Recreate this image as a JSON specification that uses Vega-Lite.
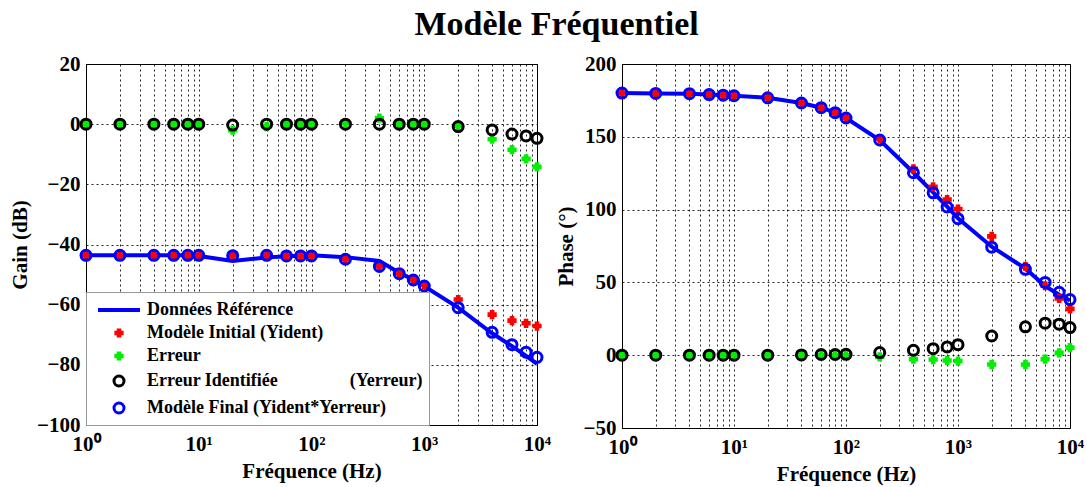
{
  "$schema": "https://vega.github.io/schema/vega-lite/v6.json",
  "padding": {"left": 9, "right": 5, "top": 7, "bottom": 5},
  "title": {"text": "Modèle Fréquentiel", "font": "Liberation Serif", "fontSize": 34, "fontWeight": "bold", "color": "black", "anchor": "middle", "offset": 12, "dx": 10, "dy": 1},
  "config": {
    "view": {"stroke": "black", "strokeWidth": 1},
    "axis": {"labelFont": "Liberation Serif", "labelFontSize": 21, "labelFontWeight": "bold", "labelColor": "black", "titleFont": "Liberation Serif", "titleFontSize": 21, "titleFontWeight": "bold", "titleColor": "black", "domainColor": "black", "gridColor": "black", "gridDash": [2, 3], "gridOpacity": 0.85, "gridWidth": 1, "ticks": false, "labelPadding": 6},
    "axisX": {"labelPadding": 8, "titlePadding": 6},
    "legend": {"orient": "bottom-left", "offset": 0, "fillColor": "white", "strokeColor": "#999999", "padding": 6, "labelFont": "Liberation Serif", "labelFontSize": 18, "labelFontWeight": "bold", "labelColor": "black", "rowPadding": 5, "symbolOffset": 15, "labelOffset": 16, "labelLimit": 400}
  },
  "datasets": {
    "gain": [
      {"f": 1, "ref": -43.6, "init": -43.6, "err": 0, "errId": 0, "final": -43.6},
      {"f": 2, "ref": -43.6, "init": -43.6, "err": 0, "errId": 0, "final": -43.6},
      {"f": 4, "ref": -43.6, "init": -43.6, "err": 0, "errId": 0, "final": -43.6},
      {"f": 6, "ref": -43.6, "init": -43.6, "err": 0, "errId": 0, "final": -43.6},
      {"f": 8, "ref": -43.6, "init": -43.6, "err": 0, "errId": 0, "final": -43.6},
      {"f": 10, "ref": -43.8, "init": -43.6, "err": 0, "errId": 0, "final": -43.6},
      {"f": 20, "ref": -45.5, "init": -43.6, "err": -2, "errId": -0.3, "final": -43.7},
      {"f": 40, "ref": -44.3, "init": -43.6, "err": -0.8, "errId": 0, "final": -43.6},
      {"f": 60, "ref": -43.9, "init": -43.8, "err": 0, "errId": 0, "final": -43.8},
      {"f": 80, "ref": -43.7, "init": -43.8, "err": 0, "errId": 0, "final": -43.8},
      {"f": 100, "ref": -43.6, "init": -43.8, "err": 0, "errId": 0, "final": -43.8},
      {"f": 200, "ref": -44.2, "init": -44.8, "err": 0.4, "errId": 0, "final": -44.9},
      {"f": 400, "ref": -45.5, "init": -47.2, "err": 2, "errId": 0, "final": -47.3},
      {"f": 600, "ref": -49.4, "init": -49.6, "err": 0, "errId": 0, "final": -49.7},
      {"f": 800, "ref": -51.7, "init": -51.6, "err": 0, "errId": 0, "final": -51.8},
      {"f": 1000, "ref": -53.9, "init": -53.3, "err": 0, "errId": 0, "final": -53.8},
      {"f": 2000, "ref": -61, "init": -58.3, "err": -0.5, "errId": -0.8, "final": -61},
      {"f": 4000, "ref": -69.5, "init": -63.3, "err": -5, "errId": -1.9, "final": -69.2},
      {"f": 6000, "ref": -73.8, "init": -65.3, "err": -8.5, "errId": -3.3, "final": -73.3},
      {"f": 8000, "ref": -77, "init": -66.2, "err": -11.5, "errId": -3.9, "final": -75.8},
      {"f": 10000, "ref": -79.7, "init": -67.1, "err": -14.2, "errId": -4.7, "final": -77.5}
    ],
    "phase": [
      {"f": 1, "ref": 180, "init": 180, "err": 0, "errId": 0, "final": 180},
      {"f": 2, "ref": 179.8, "init": 179.8, "err": 0, "errId": 0, "final": 179.8},
      {"f": 4, "ref": 179.6, "init": 179.6, "err": 0, "errId": 0, "final": 179.6},
      {"f": 6, "ref": 179, "init": 179, "err": 0, "errId": 0, "final": 179},
      {"f": 8, "ref": 178.6, "init": 178.6, "err": 0, "errId": 0, "final": 178.6},
      {"f": 10, "ref": 178.2, "init": 178.2, "err": 0, "errId": 0, "final": 178.2},
      {"f": 20, "ref": 176.8, "init": 176.8, "err": 0, "errId": 0, "final": 176.8},
      {"f": 40, "ref": 173.2, "init": 173.2, "err": 0, "errId": 0.2, "final": 173.2},
      {"f": 60, "ref": 170, "init": 170, "err": 0, "errId": 0.5, "final": 170},
      {"f": 80, "ref": 166.6, "init": 166.6, "err": 0, "errId": 0.5, "final": 166.6},
      {"f": 100, "ref": 162.9, "init": 162.9, "err": 0, "errId": 0.6, "final": 162.9},
      {"f": 200, "ref": 147.8, "init": 148.8, "err": -1.2, "errId": 1.8, "final": 147.8},
      {"f": 400, "ref": 125.5, "init": 128, "err": -2.7, "errId": 3.4, "final": 125.3},
      {"f": 600, "ref": 111.8, "init": 115.6, "err": -3, "errId": 4.5, "final": 111.5},
      {"f": 800, "ref": 102, "init": 106.9, "err": -3.6, "errId": 5.7, "final": 101.8},
      {"f": 1000, "ref": 94, "init": 100.4, "err": -4, "errId": 7.2, "final": 93.8},
      {"f": 2000, "ref": 74.5, "init": 81.6, "err": -6.4, "errId": 13.2, "final": 74.2},
      {"f": 4000, "ref": 59.5, "init": 61, "err": -6.4, "errId": 19.5, "final": 59},
      {"f": 6000, "ref": 47.5, "init": 47.7, "err": -2.7, "errId": 22, "final": 50},
      {"f": 8000, "ref": 41.5, "init": 39, "err": 1.6, "errId": 21.3, "final": 43.2},
      {"f": 10000, "ref": 37.5, "init": 31.8, "err": 5.2, "errId": 19, "final": 38.2}
    ]
  },
  "resolve": {"scale": {"stroke": "independent", "fill": "independent", "shape": "independent", "size": "independent", "strokeWidth": "independent"}},
  "spacing": 2,
  "hconcat": [
    {
      "width": 451,
      "height": 361,
      "data": {"name": "gain"},
      "transform": [{"fold": ["ref", "init", "err", "errId", "final"], "as": ["s", "v"]}],
      "encoding": {
        "x": {"field": "f", "type": "quantitative", "scale": {"type": "log", "domain": [1, 10000], "nice": false},
          "axis": {"title": "Fréquence (Hz)", "values": [1,2,3,4,5,6,7,8,9,10,20,30,40,50,60,70,80,90,100,200,300,400,500,600,700,800,900,1000,2000,3000,4000,5000,6000,7000,8000,9000,10000], "labelOverlap": false, "labelExpr": "datum.value == 1 ? '10⁰' : datum.value == 10 ? '10¹' : datum.value == 100 ? '10²' : datum.value == 1000 ? '10³' : datum.value == 10000 ? '10⁴' : ''", "labelFlush": false}},
        "y": {"field": "v", "type": "quantitative", "scale": {"domain": [-100, 20], "nice": false},
          "axis": {"title": "Gain (dB)", "titlePadding": 6, "values": [-100, -80, -60, -40, -20, 0, 20]}}
      },
      "layer": [
        {"transform": [{"filter": "datum.s == 'ref'"}], "mark": {"type": "line", "color": "#0000ff", "strokeWidth": 4}, "encoding": {}},
        {"transform": [{"filter": "datum.s != 'ref'"}], "mark": {"type": "point", "opacity": 1},
          "encoding": {
            "stroke": {"field": "s", "type": "nominal", "scale": {"domain": ["ref", "init", "err", "errId", "final"], "range": ["#0000ff", "#ff0000", "#00ee00", "#000000", "#0000ff"]},
              "legend": {"title": null, "labelExpr": "datum.value == 'ref' ? 'Données Référence' : datum.value == 'init' ? 'Modèle Initial (Yident)' : datum.value == 'err' ? 'Erreur' : datum.value == 'errId' ? 'Erreur Identifiée\u00a0\u00a0\u00a0\u00a0\u00a0\u00a0\u00a0\u00a0\u00a0\u00a0\u00a0\u00a0\u00a0\u00a0\u00a0\u00a0(Yerreur)' : 'Modèle Final (Yident*Yerreur)'"}},
            "fill": {"field": "s", "type": "nominal", "scale": {"domain": ["ref", "init", "err", "errId", "final"], "range": ["transparent", "#ff0000", "#00ee00", "transparent", "transparent"]}},
            "shape": {"field": "s", "type": "nominal", "scale": {"domain": ["ref", "init", "err", "errId", "final"], "range": ["M-2.1,0H2.1", "cross", "cross", "circle", "circle"]}},
            "size": {"field": "s", "type": "nominal", "scale": {"type": "ordinal", "domain": ["ref", "init", "err", "errId", "final"], "range": [400, 60, 60, 100, 100]}},
            "strokeWidth": {"field": "s", "type": "nominal", "scale": {"type": "ordinal", "domain": ["ref", "init", "err", "errId", "final"], "range": [4, 1.5, 1.5, 3, 3]}}
          }}
      ]
    },
    {
      "width": 448,
      "height": 364,
      "data": {"name": "phase"},
      "transform": [{"fold": ["ref", "init", "err", "errId", "final"], "as": ["s", "v"]}],
      "encoding": {
        "x": {"field": "f", "type": "quantitative", "scale": {"type": "log", "domain": [1, 10000], "nice": false},
          "axis": {"title": "Fréquence (Hz)", "values": [1,2,3,4,5,6,7,8,9,10,20,30,40,50,60,70,80,90,100,200,300,400,500,600,700,800,900,1000,2000,3000,4000,5000,6000,7000,8000,9000,10000], "labelOverlap": false, "labelExpr": "datum.value == 1 ? '10⁰' : datum.value == 10 ? '10¹' : datum.value == 100 ? '10²' : datum.value == 1000 ? '10³' : datum.value == 10000 ? '10⁴' : ''", "labelFlush": false}},
        "y": {"field": "v", "type": "quantitative", "scale": {"domain": [-50, 200], "nice": false},
          "axis": {"title": "Phase (°)", "titlePadding": 7, "values": [-50, 0, 50, 100, 150, 200]}}
      },
      "layer": [
        {"transform": [{"filter": "datum.s == 'ref'"}], "mark": {"type": "line", "color": "#0000ff", "strokeWidth": 4}, "encoding": {}},
        {"transform": [{"filter": "datum.s != 'ref'"}], "mark": {"type": "point", "opacity": 1},
          "encoding": {
            "stroke": {"field": "s", "type": "nominal", "scale": {"domain": ["ref", "init", "err", "errId", "final"], "range": ["#0000ff", "#ff0000", "#00ee00", "#000000", "#0000ff"]}, "legend": null},
            "fill": {"field": "s", "type": "nominal", "scale": {"domain": ["ref", "init", "err", "errId", "final"], "range": ["transparent", "#ff0000", "#00ee00", "transparent", "transparent"]}, "legend": null},
            "shape": {"field": "s", "type": "nominal", "scale": {"domain": ["ref", "init", "err", "errId", "final"], "range": ["M-2.1,0H2.1", "cross", "cross", "circle", "circle"]}, "legend": null},
            "size": {"field": "s", "type": "nominal", "scale": {"type": "ordinal", "domain": ["ref", "init", "err", "errId", "final"], "range": [400, 60, 60, 100, 100]}, "legend": null},
            "strokeWidth": {"field": "s", "type": "nominal", "scale": {"type": "ordinal", "domain": ["ref", "init", "err", "errId", "final"], "range": [4, 1.5, 1.5, 3, 3]}, "legend": null}
          }}
      ]
    }
  ]
}
